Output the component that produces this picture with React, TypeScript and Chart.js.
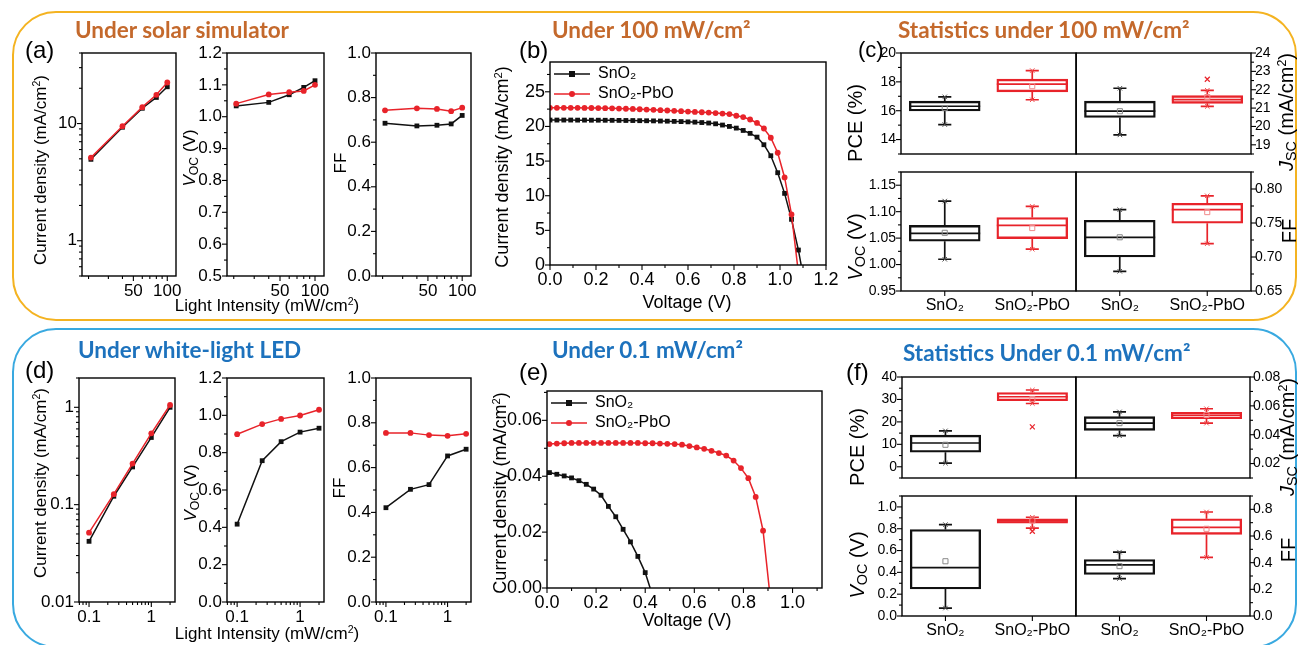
import { useEffect, useRef } from 'react';
import { Chart, registerables } from 'chart.js';
Chart.register(...registerables);

const FONT = '"Liberation Sans", Arial, Helvetica, sans-serif';
const TITLE_FONT = 'Lato, "Open Sans", sans-serif';
const BLACK = '#111111';
const RED = '#e8232a';
const ORANGE_T = '#c4692c';
const BLUE_T = '#1d72bd';

// ---------------- (a) solar simulator ----------------
const sunIntensity = [21, 40, 60, 80, 100];
const sunJ_SnO2 = [4.95, 9.3, 13.5, 16.7, 20.6];
const sunJ_PbO = [5.12, 9.5, 13.8, 17.6, 22.4];
const sunVoc_SnO2 = [1.034, 1.045, 1.069, 1.092, 1.113];
const sunVoc_PbO = [1.041, 1.07, 1.077, 1.081, 1.1];
const sunFF_SnO2 = [0.685, 0.673, 0.676, 0.682, 0.72];
const sunFF_PbO = [0.743, 0.752, 0.749, 0.739, 0.755];

// ---------------- (d) white-light LED ----------------
const ledIntensity = [0.1, 0.25, 0.5, 1, 2];
const ledJ_SnO2 = [0.042, 0.122, 0.244, 0.49, 1.0];
const ledJ_PbO = [0.0515, 0.128, 0.264, 0.54, 1.056];
const ledVoc_SnO2 = [0.417, 0.757, 0.859, 0.91, 0.931];
const ledVoc_PbO = [0.899, 0.953, 0.981, 0.999, 1.03];
const ledFF_SnO2 = [0.421, 0.503, 0.524, 0.652, 0.682];
const ledFF_PbO = [0.755, 0.755, 0.745, 0.742, 0.751];

// ---------------- (b) J-V at 100 mW/cm2 ----------------
const bV_SnO2 = [0.0, 0.03, 0.06, 0.09, 0.12, 0.15, 0.18, 0.21, 0.24, 0.27, 0.3, 0.33, 0.36, 0.39, 0.42, 0.45, 0.48, 0.51, 0.54, 0.57, 0.6, 0.63, 0.66, 0.69, 0.72, 0.75, 0.78, 0.81, 0.84, 0.87, 0.9, 0.93, 0.96, 0.99, 1.02, 1.05, 1.08, 1.092];
const bJ_SnO2 = [20.92, 20.92, 20.92, 20.92, 20.91, 20.91, 20.9, 20.9, 20.89, 20.88, 20.87, 20.86, 20.85, 20.83, 20.82, 20.8, 20.78, 20.76, 20.73, 20.7, 20.66, 20.62, 20.56, 20.49, 20.38, 20.2, 20.0, 19.76, 19.42, 19.0, 18.46, 17.36, 15.77, 13.32, 10.34, 6.59, 2.16, 0];
const bV_PbO = [0.0, 0.03, 0.06, 0.09, 0.12, 0.15, 0.18, 0.21, 0.24, 0.27, 0.3, 0.33, 0.36, 0.39, 0.42, 0.45, 0.48, 0.51, 0.54, 0.57, 0.6, 0.63, 0.66, 0.69, 0.72, 0.75, 0.78, 0.81, 0.84, 0.87, 0.9, 0.93, 0.96, 0.99, 1.02, 1.05, 1.076];
const bJ_PbO = [22.69, 22.69, 22.69, 22.68, 22.68, 22.67, 22.66, 22.65, 22.63, 22.61, 22.58, 22.55, 22.52, 22.48, 22.44, 22.4, 22.35, 22.3, 22.25, 22.2, 22.15, 22.1, 22.05, 22.0, 21.93, 21.86, 21.78, 21.54, 21.35, 21.0, 20.5, 19.7, 18.37, 16.2, 12.64, 7.3, 0];

// ---------------- (e) J-V at 0.1 mW/cm2 ----------------
const eV_SnO2 = [0.01, 0.04, 0.07, 0.1, 0.13, 0.16, 0.19, 0.22, 0.25, 0.28, 0.31, 0.34, 0.37, 0.4, 0.42];
const eJ_SnO2 = [0.0413, 0.0407, 0.0401, 0.0394, 0.0384, 0.0371, 0.0354, 0.0332, 0.0292, 0.0255, 0.021, 0.0165, 0.0113, 0.0055, 0];
const eV_PbO = [0.01, 0.04, 0.07, 0.1, 0.13, 0.16, 0.19, 0.22, 0.25, 0.28, 0.31, 0.34, 0.37, 0.4, 0.43, 0.46, 0.49, 0.52, 0.55, 0.58, 0.61, 0.64, 0.67, 0.7, 0.73, 0.76, 0.79, 0.82, 0.85, 0.88, 0.905];
const eJ_PbO = [0.0515, 0.0517, 0.0518, 0.0519, 0.0519, 0.0519, 0.0519, 0.0519, 0.0519, 0.0519, 0.0519, 0.0519, 0.0519, 0.0518, 0.0518, 0.0517, 0.0516, 0.0515, 0.0513, 0.0508, 0.0503, 0.0498, 0.0491, 0.0483, 0.0474, 0.0456, 0.0429, 0.0393, 0.0326, 0.0205, 0];

// ---------------- box statistics: [min, q1, median, q3, max, mean] ----------------
const categories = ['SnO₂', 'SnO₂-PbO'];
const cPCE = [[15.04, 15.98, 16.31, 16.66, 16.96, 16.18], [16.76, 17.31, 17.84, 18.19, 18.78, 17.7]];
const cJsc = [[19.54, 20.49, 20.83, 21.38, 22.08, 20.83], [21.09, 21.26, 21.46, 21.68, 21.97, 21.6]];
const cJscOutlier = [null, 22.57];
const cVoc = [[1.01, 1.044, 1.059, 1.074, 1.12, 1.06], [1.029, 1.049, 1.074, 1.089, 1.11, 1.069]];
const cFF = [[0.679, 0.7, 0.729, 0.754, 0.7696, 0.729], [0.7196, 0.7496, 0.7696, 0.779, 0.79, 0.766]];

const fPCE = [[1.6, 6.5, 10.6, 14.1, 16.0, 9.8], [28.2, 29.4, 31.2, 33.1, 34.2, 30.2]];
const fPCEOutlier = [null, 17.8];
const fJsc = [[0.0393, 0.043, 0.048, 0.0525, 0.0558, 0.048], [0.048, 0.0511, 0.0535, 0.0556, 0.058, 0.0537]];
const fVoc = [[0.073, 0.248, 0.444, 0.793, 0.838, 0.502], [0.805, 0.85, 0.872, 0.89, 0.905, 0.875]];
const fVocOutlier = [null, 0.777];
const fFF = [[0.281, 0.311, 0.383, 0.424, 0.479, 0.374], [0.439, 0.612, 0.665, 0.729, 0.78, 0.654]];

// ---------------- tick values ----------------
const range = (a: number, b: number, s: number) => {
  const out: number[] = [];
  for (let v = a; v <= b + s * 1e-6; v += s) out.push(Math.round(v * 1e6) / 1e6);
  return out;
};
const sunXMajor = [50, 100];
const sunXMinor = [20, 30, 40, 60, 70, 80, 90];
const ledXMajor = [0.1, 1];
const ledXMinor = [0.07, 0.08, 0.09, 0.2, 0.3, 0.4, 0.5, 0.6, 0.7, 0.8, 0.9, 2];
const sunJMajor = [1, 10];
const sunJMinor = [0.5, 0.6, 0.7, 0.8, 0.9, 2, 3, 4, 5, 6, 7, 8, 9, 20, 30, 40];
const ledJMajor = [0.01, 0.1, 1];
const ledJMinor = [0.02, 0.03, 0.04, 0.05, 0.06, 0.07, 0.08, 0.09, 0.2, 0.3, 0.4, 0.5, 0.6, 0.7, 0.8, 0.9, 2];

const fInt = (v: number) => String(Math.round(v));
const fLog = (v: number) => String(v);
const f1 = (v: number) => v.toFixed(1);
const f2 = (v: number) => v.toFixed(2);
const fCat = (v: number) => categories[Math.round(v) - 1] ?? '';

type Ax = { type?: 'linear' | 'logarithmic'; min: number; max: number; major: number[]; minor: number[]; fmt?: (v: number) => string; size?: number; pad?: number; marks?: boolean };
type Panel = { L: number; T: number; R: number; B: number; x: Ax; y: Ax; yPos: 'left' | 'right'; kind: 'line' | 'bar'; datasets: any[]; legend?: boolean; m: number[] };

function series(xs: number[], ys: number[], color: string, style: string, order: number, label?: string, hideLast?: boolean) {
  const r = style === 'rect' ? 3.4 : 2.9;
  return {
    type: 'line', label, order,
    data: xs.map((x, i) => ({ x, y: ys[i] })),
    borderColor: color, backgroundColor: color, borderWidth: 1.5,
    pointStyle: style, pointBorderWidth: 0,
    pointRadius: xs.map((_, i) => (hideLast && i === xs.length - 1 ? 0 : r)),
    tension: 0,
  };
}

function boxSets(stats: number[][], outl: (number | null)[], unitPx: number) {
  const colors = [BLACK, RED];
  const meanCol = ['#8a8a8a', '#f08a8a'];
  const endCol = ['#555555', '#f05050'];
  const hw = 0.405, cap = 0.075;
  const sets: any[] = [{
    type: 'bar', order: 10,
    data: stats.map((s, i) => ({ x: i + 1, y: [s[1], s[3]] })),
    backgroundColor: 'rgba(0,0,0,0)', borderColor: colors, borderWidth: 1.7,
    borderSkipped: false, barThickness: 2 * hw * unitPx,
  }];
  stats.forEach((s, i) => {
    const c = i + 1;
    const [mn, q1, md, q3, mx, mean] = s;
    sets.push({
      type: 'line', order: 5,
      data: [
        { x: c, y: q3 }, { x: c, y: mx }, { x: c, y: null },
        { x: c, y: q1 }, { x: c, y: mn }, { x: c, y: null },
        { x: c - cap, y: mx }, { x: c + cap, y: mx }, { x: c, y: null },
        { x: c - cap, y: mn }, { x: c + cap, y: mn }, { x: c, y: null },
        { x: c - hw, y: md }, { x: c + hw, y: md },
      ],
      borderColor: colors[i], borderWidth: 1.7, pointRadius: 0, spanGaps: false, tension: 0,
    });
    sets.push({
      type: 'line', order: 4, showLine: false,
      data: [{ x: c, y: mn }, { x: c, y: mx }],
      pointStyle: 'crossRot', pointRadius: 3.2, borderColor: endCol[i], borderWidth: 1, pointBorderWidth: 1,
    });
    sets.push({
      type: 'line', order: 3, showLine: false,
      data: [{ x: c, y: mean }],
      pointStyle: 'rect', pointRadius: 3.6, borderColor: meanCol[i], backgroundColor: 'rgba(0,0,0,0)', pointBorderWidth: 1,
    });
    if (outl[i] != null) {
      sets.push({
        type: 'line', order: 3, showLine: false,
        data: [{ x: c, y: outl[i] }],
        pointStyle: 'crossRot', pointRadius: 3.5, borderColor: colors[i], pointBorderWidth: 1.2,
      });
    }
  });
  return sets;
}

// ---------------- panels ----------------
const A_T = 53, A_B = 276, D_T = 378, D_B = 602;
const xSun: Ax = { type: 'logarithmic', min: 17.5, max: 119.5, major: sunXMajor, minor: sunXMinor, fmt: fInt, size: 17, pad: 5 };
const xLed: Ax = { type: 'logarithmic', min: 0.069, max: 2.4, major: ledXMajor, minor: ledXMinor, fmt: fLog, size: 17, pad: 5 };
const catX = (shown: boolean): Ax => ({ min: 0.5, max: 2.5, major: [1, 2], minor: [], fmt: shown ? fCat : undefined, size: 16, pad: 5, marks: shown });

const PANELS: Panel[] = [
  // (a)
  { L: 82, T: A_T, R: 176, B: A_B, yPos: 'left', kind: 'line', m: [45, 18, 20, 32], x: xSun,
    y: { type: 'logarithmic', min: 0.5, max: 40, major: sunJMajor, minor: sunJMinor, fmt: fLog, size: 17 },
    datasets: [series(sunIntensity, sunJ_SnO2, BLACK, 'rect', 2), series(sunIntensity, sunJ_PbO, RED, 'circle', 1)] },
  { L: 227, T: A_T, R: 324, B: A_B, yPos: 'left', kind: 'line', m: [45, 18, 20, 32], x: xSun,
    y: { min: 0.5, max: 1.2, major: range(0.5, 1.2, 0.1), minor: range(0.55, 1.15, 0.1), fmt: f1, size: 17 },
    datasets: [series(sunIntensity, sunVoc_SnO2, BLACK, 'rect', 2), series(sunIntensity, sunVoc_PbO, RED, 'circle', 1)] },
  { L: 376, T: A_T, R: 471, B: A_B, yPos: 'left', kind: 'line', m: [45, 18, 20, 32], x: xSun,
    y: { min: 0, max: 1, major: range(0, 1, 0.2), minor: range(0.1, 0.9, 0.2), fmt: f1, size: 17 },
    datasets: [series(sunIntensity, sunFF_SnO2, BLACK, 'rect', 2), series(sunIntensity, sunFF_PbO, RED, 'circle', 1)] },
  // (b)
  { L: 550, T: 62, R: 826, B: 265, yPos: 'left', kind: 'line', m: [45, 18, 25, 32], legend: true,
    x: { min: 0, max: 1.2, major: range(0, 1.2, 0.2), minor: range(0.1, 1.1, 0.2), fmt: f1, size: 18, pad: 4 },
    y: { min: 0, max: 29.3, major: range(0, 25, 5), minor: range(2.5, 27.5, 5), fmt: fInt, size: 18, pad: 5 },
    datasets: [series(bV_SnO2, bJ_SnO2, BLACK, 'rect', 2, 'SnO₂', true), series(bV_PbO, bJ_PbO, RED, 'circle', 1, 'SnO₂-PbO', true)] },
  // (c)
  { L: 901, T: 53, R: 1076, B: 172, yPos: 'left', kind: 'bar', m: [45, 18, 5, 18], x: catX(false),
    y: { min: 13, max: 20, major: [14, 16, 18, 20], minor: [13, 15, 17, 19], fmt: fInt, size: 14 },
    datasets: boxSets(cPCE, [null, null], 87.5) },
  { L: 1076, T: 53, R: 1251, B: 172, yPos: 'right', kind: 'bar', m: [5, 18, 45, 18], x: catX(false),
    y: { min: 18.5, max: 24, major: range(19, 24, 1), minor: range(18.5, 23.5, 1), fmt: fInt, size: 14, pad: 4 },
    datasets: boxSets(cJsc, cJscOutlier, 87.5) },
  { L: 901, T: 172, R: 1076, B: 291, yPos: 'left', kind: 'bar', m: [45, 18, 5, 32], x: catX(true),
    y: { min: 0.95, max: 1.175, major: range(0.95, 1.15, 0.05), minor: range(0.975, 1.175, 0.05), fmt: f2, size: 14 },
    datasets: boxSets(cVoc, [null, null], 87.5) },
  { L: 1076, T: 172, R: 1251, B: 291, yPos: 'right', kind: 'bar', m: [5, 18, 45, 32], x: catX(true),
    y: { min: 0.65, max: 0.825, major: range(0.65, 0.8, 0.05), minor: range(0.675, 0.825, 0.05), fmt: f2, size: 14, pad: 4 },
    datasets: boxSets(cFF, [null, null], 87.5) },
  // (d)
  { L: 79, T: D_T, R: 175, B: D_B, yPos: 'left', kind: 'line', m: [45, 18, 20, 32], x: xLed,
    y: { type: 'logarithmic', min: 0.01, max: 2, major: ledJMajor, minor: ledJMinor, fmt: fLog, size: 17 },
    datasets: [series(ledIntensity, ledJ_SnO2, BLACK, 'rect', 2), series(ledIntensity, ledJ_PbO, RED, 'circle', 1)] },
  { L: 227, T: D_T, R: 324, B: D_B, yPos: 'left', kind: 'line', m: [45, 18, 20, 32], x: xLed,
    y: { min: 0, max: 1.2, major: range(0, 1.2, 0.2), minor: range(0.1, 1.1, 0.2), fmt: f1, size: 17 },
    datasets: [series(ledIntensity, ledVoc_SnO2, BLACK, 'rect', 2), series(ledIntensity, ledVoc_PbO, RED, 'circle', 1)] },
  { L: 376, T: D_T, R: 471, B: D_B, yPos: 'left', kind: 'line', m: [45, 18, 20, 32], x: xLed,
    y: { min: 0, max: 1, major: range(0, 1, 0.2), minor: range(0.1, 0.9, 0.2), fmt: f1, size: 17 },
    datasets: [series(ledIntensity, ledFF_SnO2, BLACK, 'rect', 2), series(ledIntensity, ledFF_PbO, RED, 'circle', 1)] },
  // (e)
  { L: 547, T: 391, R: 822, B: 588, yPos: 'left', kind: 'line', m: [45, 18, 25, 32], legend: true,
    x: { min: 0, max: 1.12, major: range(0, 1.0, 0.2), minor: range(0.1, 1.1, 0.2), fmt: f1, size: 18, pad: 4 },
    y: { min: 0, max: 0.0705, major: [0, 0.02, 0.04, 0.06], minor: [0.01, 0.03, 0.05, 0.07], fmt: f2, size: 18, pad: 5 },
    datasets: [series(eV_SnO2, eJ_SnO2, BLACK, 'rect', 2, 'SnO₂', true), series(eV_PbO, eJ_PbO, RED, 'circle', 1, 'SnO₂-PbO', true)] },
  // (f)
  { L: 902, T: 377, R: 1076, B: 496, yPos: 'left', kind: 'bar', m: [45, 18, 5, 18], x: catX(false),
    y: { min: -5, max: 40, major: range(0, 40, 10), minor: range(-5, 35, 10), fmt: fInt, size: 14 },
    datasets: boxSets(fPCE, fPCEOutlier, 87) },
  { L: 1076, T: 377, R: 1250, B: 496, yPos: 'right', kind: 'bar', m: [5, 18, 45, 18], x: catX(false),
    y: { min: 0.01, max: 0.08, major: [0.02, 0.04, 0.06, 0.08], minor: [0.01, 0.03, 0.05, 0.07], fmt: f2, size: 14, pad: 3 },
    datasets: boxSets(fJsc, [null, null], 87) },
  { L: 902, T: 496, R: 1076, B: 616, yPos: 'left', kind: 'bar', m: [45, 18, 5, 32], x: catX(true),
    y: { min: 0, max: 1.1, major: range(0, 1.0, 0.2), minor: range(0.1, 1.1, 0.2), fmt: f1, size: 14 },
    datasets: boxSets(fVoc, fVocOutlier, 87) },
  { L: 1076, T: 496, R: 1250, B: 616, yPos: 'right', kind: 'bar', m: [5, 18, 45, 32], x: catX(true),
    y: { min: 0, max: 0.9, major: range(0, 0.8, 0.2), minor: range(0.1, 0.9, 0.2), fmt: f1, size: 14, pad: 3 },
    datasets: boxSets(fFF, [null, null], 87) },
];

function geom(p: Panel) {
  const [ml, mt, mr, mb] = p.m;
  return { left: p.L - ml, top: p.T - mt, W: p.R - p.L + ml + mr, H: p.B - p.T + mt + mb };
}

function scaleOpts(ax: Ax, pos: string, sizePx: number, horizontal: boolean) {
  const show = !!ax.fmt;
  return {
    type: ax.type || 'linear',
    position: pos,
    min: ax.min, max: ax.max,
    display: show,
    bounds: 'data',
    offset: false,
    grid: { display: false, drawTicks: false },
    border: { display: false },
    afterBuildTicks: (s: any) => { s.ticks = ax.major.map((v) => ({ value: v })); },
    afterFit: (s: any) => { if (horizontal) s.height = sizePx; else s.width = sizePx; },
    ticks: {
      display: show, color: '#000', autoSkip: false, maxRotation: 0, minRotation: 0,
      padding: ax.pad ?? 5, font: { family: FONT, size: ax.size ?? 16 },
      callback: (v: any) => (ax.fmt ? ax.fmt(Number(v)) : ''),
    },
  };
}

function framePlugin(p: Panel) {
  return {
    id: 'frame',
    afterLayout(chart: any) {
      // keep the in-plot legend anchored to the top-left corner of the plot area
      const lg = chart.legend;
      if (p.legend && lg) {
        lg.top = chart.chartArea.top;
        lg.bottom = chart.chartArea.bottom;
        lg.left = chart.chartArea.left;
        lg.right = chart.chartArea.right;
      }
    },
    afterDatasetsDraw(chart: any) {
      const { ctx, chartArea: a } = chart;
      ctx.save();
      ctx.strokeStyle = '#000';
      ctx.lineWidth = 1.4;
      ctx.strokeRect(a.left, a.top, a.right - a.left, a.bottom - a.top);
      ctx.lineWidth = 1.1;
      const draw = (ax: Ax, side: string, scale: any) => {
        if (ax.marks === false) return;
        const mark = (v: number, len: number) => {
          const q = scale.getPixelForValue(v);
          ctx.beginPath();
          if (side === 'left') { ctx.moveTo(a.left, q); ctx.lineTo(a.left - len, q); }
          else if (side === 'right') { ctx.moveTo(a.right, q); ctx.lineTo(a.right + len, q); }
          else { ctx.moveTo(q, a.bottom); ctx.lineTo(q, a.bottom + len); }
          ctx.stroke();
        };
        ax.major.forEach((v) => mark(v, 5));
        ax.minor.forEach((v) => mark(v, 3));
      };
      draw(p.y, p.yPos, chart.scales.y);
      draw(p.x, 'bottom', chart.scales.x);
      ctx.restore();
    },
  };
}

function legendIcon(color: string, style: string) {
  const c = document.createElement('canvas');
  c.width = 36; c.height = 10;
  const g = c.getContext('2d')!;
  g.strokeStyle = color; g.fillStyle = color; g.lineWidth = 1.5;
  g.beginPath(); g.moveTo(0, 5); g.lineTo(36, 5); g.stroke();
  if (style === 'rect') g.fillRect(15, 2, 6, 6);
  else { g.beginPath(); g.arc(18, 5, 3, 0, Math.PI * 2); g.fill(); }
  return c;
}

function buildConfig(p: Panel) {
  const [ml, mt, mr, mb] = p.m;
  const xShown = !!p.x.fmt;
  const yLeft = p.yPos === 'left';
  const icons = [legendIcon(BLACK, 'rect'), legendIcon(RED, 'circle')];
  const legend = p.legend
    ? {
        display: true, position: 'chartArea', align: 'start',
        labels: {
          usePointStyle: true, pointStyleWidth: 36, boxHeight: 10, padding: 4,
          color: '#000', font: { family: FONT, size: 16 },
          generateLabels: (chart: any) => chart.data.datasets.slice(0, 2).map((d: any, i: number) => ({
            text: d.label, pointStyle: icons[i], fillStyle: 'rgba(0,0,0,0)', strokeStyle: 'rgba(0,0,0,0)',
            lineWidth: 0, hidden: false, datasetIndex: i, fontColor: '#000',
          })),
        },
      }
    : { display: false };
  return {
    type: p.kind,
    data: { datasets: p.datasets },
    options: {
      responsive: false, maintainAspectRatio: false, animation: false, devicePixelRatio: 1,
      events: [],
      layout: { padding: { left: yLeft ? 0 : ml, right: yLeft ? mr : 0, top: mt, bottom: xShown ? 0 : mb } },
      scales: {
        x: scaleOpts(p.x, 'bottom', mb, true),
        y: scaleOpts(p.y, p.yPos, yLeft ? ml : mr, false),
      },
      plugins: { legend, tooltip: { enabled: false }, title: { display: false } },
    },
    plugins: [framePlugin(p)],
  } as any;
}

// ---------------- HTML text helpers ----------------
const T = (props: { x: number; y: number; children: any; size: number; rot?: boolean; center?: boolean; color?: string; font?: string; weight?: number }) => (
  <div
    style={{
      position: 'absolute', left: props.x, top: props.y, whiteSpace: 'nowrap',
      transform: props.rot ? 'translate(-50%, -50%) rotate(-90deg)' : props.center ? 'translate(-50%, -50%)' : 'translate(0, -50%)',
      fontSize: props.size, fontFamily: props.font ?? FONT, fontWeight: props.weight ?? 400,
      color: props.color ?? '#000', lineHeight: 1,
    }}
  >
    {props.children}
  </div>
);
const sub = { fontSize: '0.72em', verticalAlign: '-0.25em' } as any;
const sup = { fontSize: '0.62em', verticalAlign: '0.55em' } as any;
const Voc = () => (<span><i>V</i><span style={sub}>OC</span> (V)</span>);
const Jsc = () => (<span><i>J</i><span style={sub}>SC</span> (mA/cm<span style={sup}>2</span>)</span>);
const CD = () => (<span>Current density (mA/cm<span style={sup}>2</span>)</span>);
const LI = () => (<span>Light Intensity (mW/cm<span style={sup}>2</span>)</span>);

export default function App() {
  const refs = useRef<(HTMLCanvasElement | null)[]>([]);
  useEffect(() => {
    Chart.defaults.font.family = FONT;
    const charts = PANELS.map((p, i) => new Chart(refs.current[i] as HTMLCanvasElement, buildConfig(p)));
    return () => charts.forEach((c) => c.destroy());
  }, []);

  const TS = 22.5;
  return (
    <div style={{ position: 'absolute', left: 0, top: 0, width: 1298, height: 645, background: '#ffffff', overflow: 'hidden', fontFamily: FONT }}>
      <div style={{ position: 'absolute', left: 12, top: 11, width: 1285, height: 310, border: '2.5px solid #f4b321', borderRadius: 44, boxSizing: 'border-box' }} />
      <div style={{ position: 'absolute', left: 12, top: 328, width: 1285, height: 320, border: '2.5px solid #39a9e0', borderRadius: 44, boxSizing: 'border-box' }} />

      {PANELS.map((p, i) => {
        const g = geom(p);
        return (
          <canvas
            key={i}
            ref={(el) => { refs.current[i] = el; }}
            width={g.W}
            height={g.H}
            style={{ position: 'absolute', left: g.left, top: g.top, width: g.W, height: g.H }}
          />
        );
      })}

      {/* section titles */}
      <T x={75} y={30} size={TS} font={TITLE_FONT} weight={700} color={ORANGE_T}>Under solar simulator</T>
      <T x={552} y={30} size={TS} font={TITLE_FONT} weight={700} color={ORANGE_T}>Under 100 mW/cm²</T>
      <T x={898} y={30} size={TS} font={TITLE_FONT} weight={700} color={ORANGE_T}>Statistics under 100 mW/cm²</T>
      <T x={78} y={350} size={TS} font={TITLE_FONT} weight={700} color={BLUE_T}>Under white-light LED</T>
      <T x={552} y={350} size={TS} font={TITLE_FONT} weight={700} color={BLUE_T}>Under 0.1 mW/cm²</T>
      <T x={903} y={353} size={TS} font={TITLE_FONT} weight={700} color={BLUE_T}>Statistics Under 0.1 mW/cm²</T>

      {/* panel letters */}
      <T x={25} y={50} size={24}>(a)</T>
      <T x={519} y={50} size={24}>(b)</T>
      <T x={858} y={50} size={22}>(c)</T>
      <T x={25} y={370} size={24}>(d)</T>
      <T x={519} y={372} size={24}>(e)</T>
      <T x={846} y={372} size={24}>(f)</T>

      {/* (a) axis titles */}
      <T x={40} y={170} size={17} rot><CD /></T>
      <T x={191} y={158} size={17} rot><Voc /></T>
      <T x={340} y={163} size={17} rot>FF</T>
      <T x={267} y={305} size={17} center><LI /></T>
      {/* (b) */}
      <T x={502} y={167} size={18} rot><CD /></T>
      <T x={687} y={302} size={18} center>Voltage (V)</T>
      {/* (c) */}
      <T x={855} y={123} size={20} rot>PCE (%)</T>
      <T x={856} y={247} size={20} rot><Voc /></T>
      <T x={1287} y={112} size={20} rot><Jsc /></T>
      <T x={1289} y={231} size={20} rot>FF</T>
      {/* (d) */}
      <T x={40} y={483} size={17} rot><CD /></T>
      <T x={192} y={493} size={17} rot><Voc /></T>
      <T x={339} y={488} size={17} rot>FF</T>
      <T x={267} y={633} size={17} center><LI /></T>
      {/* (e) */}
      <T x={500} y={493} size={18} rot><CD /></T>
      <T x={687} y={620} size={18} center>Voltage (V)</T>
      {/* (f) */}
      <T x={857} y={447} size={20} rot>PCE (%)</T>
      <T x={858} y={565} size={20} rot><Voc /></T>
      <T x={1288} y={437} size={20} rot><Jsc /></T>
      <T x={1288} y={550} size={20} rot>FF</T>
    </div>
  );
}
